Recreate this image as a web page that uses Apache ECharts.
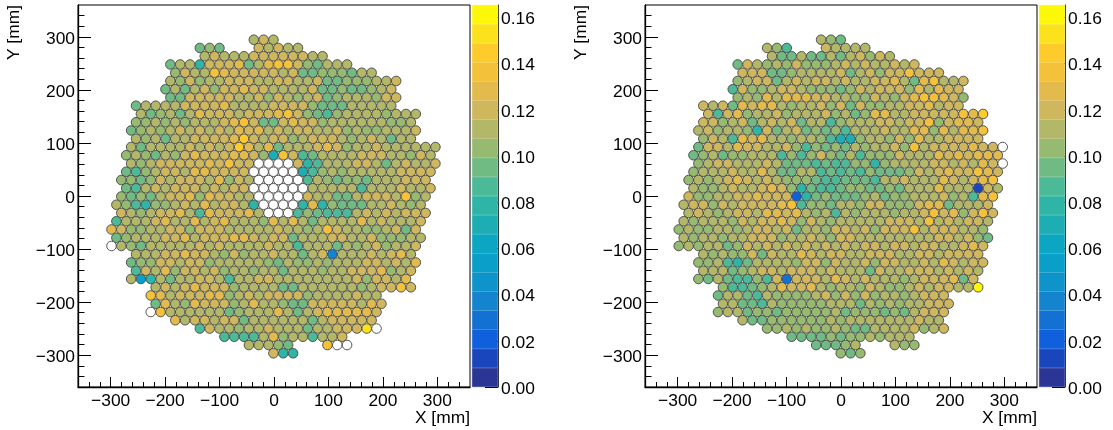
<!DOCTYPE html>
<html>
<head>
<meta charset="utf-8">
<style>html,body{margin:0;padding:0;background:#fff}#c{width:1113px;height:430px}</style>
<script src="https://cdn.jsdelivr.net/npm/echarts@6/dist/echarts.min.js"></script>
</head>
<body>
<div id="c"></div>
<script>
// Colour-bar bands, lowest to highest
const bandColors = ['#2a3596','#1a46bd','#0f60dc','#1271d3','#1484cf','#0f93cb','#0a9fc8','#0ca6c3','#1caeb3','#2fb5a5','#4cb997','#70bb83','#95ba70','#b3b768','#cfb75e','#e2bb4c','#f4c23a','#fdcb2b','#fbe21c','#fdf80a'];
const zMax = 0.1654;
const zTicks = [0,0.02,0.04,0.06,0.08,0.10,0.12,0.14,0.16];
const axisMajor = [-300,-200,-100,0,100,200,300];
const axisMinor = [-340,-320,-280,-260,-240,-220,-180,-160,-140,-120,-80,-60,-40,-20,20,40,60,80,120,140,160,180,220,240,260,280,320,340];

// Detector rows, top to bottom (Y in mm)
const rowY = [294.5,279,263.4,247.9,232.3,216.8,201.2,185.7,170.1,154.6,139,123.5,107.9,92.3,76.8,61.2,45.7,30.1,14.6,-0.9,-16.5,-32,-47.6,-63.1,-78.7,-94.2,-109.8,-125.3,-140.9,-156.4,-172,-187.5,-203.1,-218.7,-234.2,-249.8,-265.3,-280.9,-296.4];
const pitchX = 18.03;

// Each cell: colour-bar band as base-20 digit, '.' = empty (white) channel, ' ' = no channel
const leftFirstColumn = [15,10,10,7,7,7,6,7,3,4,3,3,3,3,2,3,2,2,2,2,1,2,1,1,1,1,3,3,3,3,5,5,5,5,7,10,12,15,17];
const leftBands = [
"ded",
"bcb   ededd",
"dedddeeeeeedd",
"bdd9eeefbdfggecbddd",
"ceddgfeeeeedebbcccbdd",
"dcecddeeeddeeddebbcccdde",
"bdbdeceefeeddddebbcbbcde",
"bbeeeeeddecedcdebcdddcee",
"bddddeeeefddddeeeecbbbddddd",
"dbcdbdfeeedeeefgecbacddddcddd",
"ccdcdcdddefgebbefeecddddddccd",
"bcdcdedededfefdedeeddecdccddde",
"dcdbddeeeefhedeecdeeedcdedbdd",
"dbddddededehfdfbdddefecddedddddd",
"cdcbdcefeeeffec8geabddddeeeddced",
"dcdeeeeefegee....e9adddeedbdedde",
"bacdeedffeeee.....8acdcdddddeeee",
"ccbcedeeedfced.....adcbccbdddeee",
"badedeeededee......dddddadddedde",
"cbcbdeefcfeedd.....eddbbdeeedgcd",
"dca9ccdedfdeed9....9f9cbbbddedcd",
"edcdeefdafeeefd...acbaaadededeee",
"adddefddfdefdddcfdfdbddddfdeddde",
"feccddeeceeedddddeddcdgeddccdebe",
"bcdddeefdeeeffedeebdddeeddecccdd",
".dcbdddddededdddeddadddbdcdecdde",
"dddeefeedcecddeddbde4dddedefd",
"bcceedeecdddddcbdccdcdddeededf",
"aedfceedecddcddbdddcddeeefcde",
"d69dbddeedaddeeddddddddeceedf",
"dedefeeecddddbbddddddcdeege",
"gfdeeeffcdedeeeecddddedd",
"bfdcfeeecdfddcbbeeeeedfe",
".gddddddbcdddfdbdefffffe",
"fdeedeebddddddbdeeeee",
"aeddcddedddbddeeei.",
"aaaadfcddadde",
"dddcb   g..",
"e99"];

const rightFirstColumn = [15,10,10,7,7,7,6,7,3,4,3,3,3,3,2,3,2,2,2,2,1,2,1,1,1,1,3,3,3,3,5,5,5,5,7,10,12,15,17];
const rightBands = [
"dcb",
"dca   edddd",
"dbbdbbdbdeced",
"bedcdcecccdededdede",
"eeebbcddddebdeceegeee",
"cdeebdedeededdeefdbfgdde",
"aeccdeedcccbcedeeecfdfee",
"cdcfdfffeeddccedcefggfec",
"edebfeffdcddecebeccddeefdee",
"eaefcddecdddecdbcffddeeeeegfh",
"eecdebdedebddacdddeedeegceffe",
"decddc9ebdebcbcadddeddffcfdffg",
"cedafefddcddca88cddcecfddeeee",
"beedfeeddecacbcbdcddecgdeeeefee.",
"bcdbccdddacacecbdacccedddfefefff",
"cdeedddedbbbabaacc9cddddeededfe.",
"cdddeddfdbbddababacbbbcedefeegfe",
"cdcdefededcccbaabbbaddedddfedefg",
"dccdeddefec9baabccbbcbdddfddd1ed",
"eccddeefeee29bcbbbcdbccdddecdafg",
"deecedeeeefgaccbddceeccceffbddde",
"dedcdeedffefdcdadcdddcddegefcege",
"dcdddcedeefecedcdddddeeedgdedeed",
"cdccddcdeedebddceedeceeegdeeeddc",
"dcddcddeeecddedceeddddddddeedecb",
"cdcddbcededededededeedeedeeddefe",
"dcdccebeddfedeeddeeeddeedeeee",
"ccda9bddddceeceddeceeddedfedee",
"dddbcdeedeeededddbeddeeededed",
"cbdbaacae3eeedfededddcdeeefbe",
"caabcdfeefdcddcedccdedeeddj",
"bddbadccccdecececddcdeee",
"ddbbadcccccdddbdcdcddeee",
"cddbccbcccccdbcccbcbdeee",
"dbbccccccdcdddddddedd",
"ccdcdccdcbbddddecde",
"bbbbcbccdcddd",
"bbbcd   dcc",
"cbc"];

const FONT = '"Liberation Sans", Arial, sans-serif';
const FS = 17.4;
const bandWidth = zMax / 20;

function cells(bands, first, offsetX) {
  const filled = [], empty = [];
  bands.forEach((row, i) => {
    const shift = i % 2 === 0 ? 17 : 17.5;
    [...row].forEach((ch, n) => {
      if (ch === ' ') return;
      const x = (first[i] + n - shift) * pitchX + offsetX;
      if (ch === '.') empty.push([x, rowY[i], 0]);
      else filled.push([x, rowY[i], (parseInt(ch, 20) + 0.5) * bandWidth]);
    });
  });
  return { filled, empty };
}
const fmtAxis = v => String(v).replace('-', '\u2212');

const grid = [], xAxis = [], yAxis = [], series = [], colored = [];
const panels = [
  { left: 78, bar: 472, bands: leftBands, first: leftFirstColumn, off: -1 },
  { left: 645, bar: 1039, bands: rightBands, first: rightFirstColumn, off: -0.5 }
];
const TOP = 5, H = 382, W = 392, BW = 26;
panels.forEach(p => {
  const g = grid.length;
  grid.push({ left: p.left, top: TOP, width: W, height: H, show: true, borderColor: '#000', borderWidth: 1, backgroundColor: 'transparent', containLabel: false });
  grid.push({ left: p.bar, top: TOP, width: BW, height: H, show: false, containLabel: false });
  const line = { show: true, onZero: false, lineStyle: { color: '#000', width: 1.3 } };
  const xi = xAxis.length, yi = yAxis.length;
  xAxis.push({
    gridIndex: g, type: 'value', min: -360, max: 360, position: 'bottom',
    axisLine: line, splitLine: { show: false },
    axisTick: { show: true, inside: true, length: 10, customValues: axisMajor, lineStyle: { color: '#000', width: 1 } },
    axisLabel: { show: true, customValues: axisMajor, formatter: fmtAxis, margin: 6, fontFamily: FONT, fontSize: FS, color: '#000', hideOverlap: false },
    name: 'X [mm]', nameLocation: 'end', nameGap: 0,
    nameTextStyle: { fontFamily: FONT, fontSize: FS, color: '#000', align: 'right', verticalAlign: 'top', padding: [23, 0, 0, 0] }
  });
  xAxis.push({
    gridIndex: g, type: 'value', min: -360, max: 360, position: 'bottom',
    axisLine: { show: false, onZero: false }, splitLine: { show: false }, axisLabel: { show: false },
    axisTick: { show: true, inside: true, length: 5, customValues: axisMinor, lineStyle: { color: '#000', width: 1 } }
  });
  yAxis.push({
    gridIndex: g, type: 'value', min: -360, max: 360, position: 'left',
    axisLine: line, splitLine: { show: false },
    axisTick: { show: true, inside: true, length: 13, customValues: axisMajor, lineStyle: { color: '#000', width: 1 } },
    axisLabel: { show: true, customValues: axisMajor, formatter: fmtAxis, margin: 3, verticalAlign: 'top', lineHeight: 4, fontFamily: FONT, fontSize: FS, color: '#000' },
    name: 'Y [mm]', nameLocation: 'end', nameGap: 0, nameRotate: 90,
    nameTextStyle: { fontFamily: FONT, fontSize: FS, color: '#000', align: 'right', verticalAlign: 'bottom', padding: [0, 0, 55, 0] }
  });
  yAxis.push({
    gridIndex: g, type: 'value', min: -360, max: 360, position: 'left',
    axisLine: { show: false, onZero: false }, splitLine: { show: false }, axisLabel: { show: false },
    axisTick: { show: true, inside: true, length: 6.5, customValues: axisMinor, lineStyle: { color: '#000', width: 1 } }
  });
  // colour bar
  const bx = xAxis.length, by = yAxis.length;
  xAxis.push({ gridIndex: g + 1, type: 'category', data: ['z'], show: false, boundaryGap: true });
  yAxis.push({
    gridIndex: g + 1, type: 'value', min: 0, max: zMax, position: 'right',
    axisLine: { show: true, onZero: false, lineStyle: { color: '#333', width: 1 } }, splitLine: { show: false },
    axisTick: { show: true, inside: true, length: 13, customValues: zTicks, lineStyle: { color: '#000', width: 1 } },
    axisLabel: { show: true, customValues: zTicks, formatter: v => v.toFixed(2), margin: 3, verticalAlign: 'top', lineHeight: 4, fontFamily: FONT, fontSize: FS, color: '#000' }
  });
  bandColors.forEach((c, i) => {
    series.push({
      type: 'bar', xAxisIndex: bx, yAxisIndex: by, stack: 'bar' + g, barWidth: '100%',
      data: [bandWidth], itemStyle: { color: c, borderColor: c, borderWidth: 0.6 }, silent: true, z: 1
    });
  });
  const { filled, empty } = cells(p.bands, p.first, p.off);
  const mark = { type: 'scatter', xAxisIndex: xi, yAxisIndex: yi, symbol: 'circle', symbolSize: 9.6, silent: true, z: 3 };
  colored.push(series.length);
  series.push(Object.assign({}, mark, { data: filled, itemStyle: { borderColor: '#454545', borderWidth: 0.9, opacity: 1 } }));
  series.push(Object.assign({}, mark, { data: empty, itemStyle: { color: '#fff', borderColor: '#454545', borderWidth: 0.9, opacity: 1 } }));
});

const chart = echarts.init(document.getElementById('c'), null, { renderer: 'canvas' });
chart.setOption({
  animation: false,
  backgroundColor: '#fff',
  grid, xAxis, yAxis, series,
  visualMap: {
    type: 'piecewise', show: false, dimension: 2, seriesIndex: colored,
    pieces: bandColors.map((c, i) => ({ gte: i * bandWidth, lt: (i + 1) * bandWidth, color: c }))
  }
});
</script>
</body>
</html>
